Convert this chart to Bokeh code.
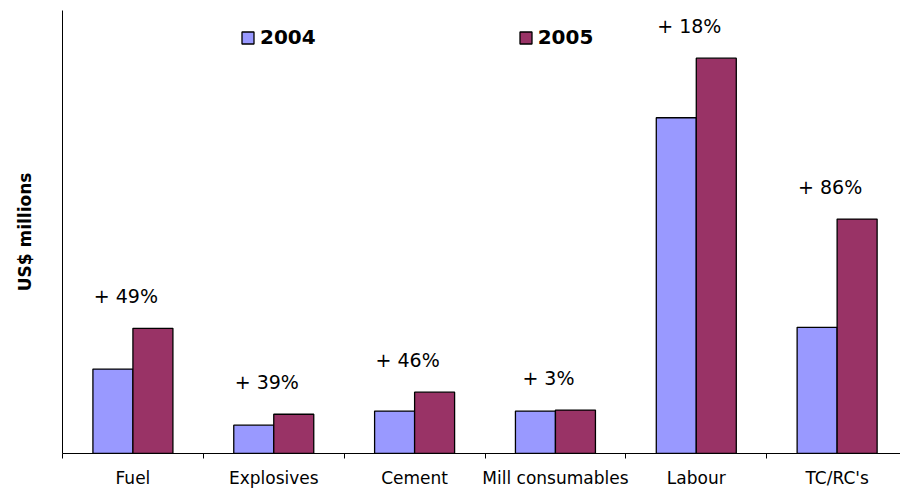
from bokeh.plotting import figure
from bokeh.models import ColumnDataSource, FixedTicker, Range1d, Legend, LegendItem, LinearAxis
from bokeh.core.properties import value
from bokeh.embed import file_html
from bokeh.resources import INLINE

categories = ["Fuel", "Explosives", "Cement", "Mill consumables", "Labour", "TC/RC's"]
values_2004 = [85, 28.5, 42.7, 42.7, 338, 127]
values_2005 = [126, 39.5, 61.7, 43.7, 398, 236]
changes = ["+ 49%", "+ 39%", "+ 46%", "+ 3%", "+ 18%", "+ 86%"]

FONT = "DejaVu Sans"
n = len(categories)
centers = [i + 0.5 for i in range(n)]
bar_w = 0.284

src = ColumnDataSource(dict(
    cat=categories,
    x04=[c - bar_w / 2 for c in centers],
    x05=[c + bar_w / 2 for c in centers],
    v04=values_2004,
    v05=values_2005,
    xc=centers,
    ytop=[max(a, b) for a, b in zip(values_2004, values_2005)],
    lab=changes,
))

p = figure(width=900, height=490, output_backend="svg", toolbar_location=None,
           x_range=Range1d(0, 5.95), y_range=Range1d(0, 446),
           min_border_left=62, min_border_right=0, min_border_top=10, min_border_bottom=34,
           x_axis_type=None, y_axis_type=None)
p.outline_line_color = None
p.grid.visible = False

r04 = p.vbar(x="x04", top="v04", bottom=0, width=bar_w, source=src,
             fill_color="#9999FF", line_color="black", line_width=1.3)
r05 = p.vbar(x="x05", top="v05", bottom=0, width=bar_w, source=src,
             fill_color="#993366", line_color="black", line_width=1.3)

xaxis = LinearAxis(
    ticker=FixedTicker(ticks=centers, minor_ticks=list(range(n + 1))),
    major_label_overrides={c: cat for c, cat in zip(centers, categories)},
    major_tick_out=0, major_tick_in=0,
    minor_tick_out=5, minor_tick_in=0,
    minor_tick_line_color="black",
    axis_line_color="black",
    major_label_text_font=FONT, major_label_text_font_size="17px",
    major_label_text_color="black", major_label_standoff=9,
)
p.add_layout(xaxis, "below")

yaxis = LinearAxis(
    ticker=FixedTicker(ticks=[]),
    axis_label="US$ millions",
    axis_label_text_font=FONT, axis_label_text_font_size="17px",
    axis_label_text_font_style="bold", axis_label_text_color="black",
    axis_label_standoff=28,
    major_tick_out=0, major_tick_in=0, minor_tick_out=0, minor_tick_in=0,
    axis_line_color="black",
    major_label_text_font_size="0px",
)
p.add_layout(yaxis, "left")

p.text(x="xc", y="ytop", text="lab", source=src, x_offset=-7, y_offset=-32,
       text_align="center", text_baseline="middle",
       text_font=value(FONT), text_font_size="19px", text_color="black")

legend = Legend(items=[LegendItem(label="2004", renderers=[r04]),
                       LegendItem(label="2005", renderers=[r05])],
                orientation="horizontal", location=(178, 404),
                spacing=202, glyph_width=15, glyph_height=15, label_standoff=5,
                label_text_font=FONT, label_text_font_size="20px",
                label_text_font_style="bold", label_text_color="black",
                background_fill_alpha=0, border_line_color=None,
                padding=0, margin=0)
p.add_layout(legend)

open("out.html", "w").write(file_html(p, INLINE))
